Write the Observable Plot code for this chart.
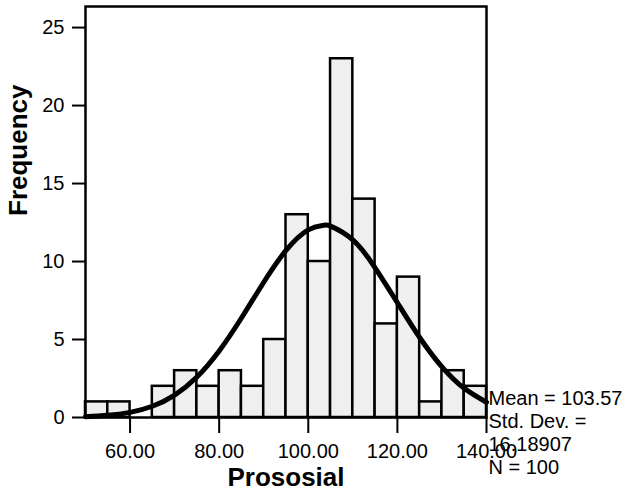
<!DOCTYPE html>
<html>
<head>
<meta charset="utf-8">
<script src="https://cdn.jsdelivr.net/npm/d3@7"></script>
<script src="https://cdn.jsdelivr.net/npm/@observablehq/plot@0.6"></script>
<style>
  html, body { margin: 0; padding: 0; background: #fff; }
</style>
</head>
<body>
<div id="chart"></div>
<script>
// Histogram bins (lower edge, upper edge) and counts
const binLower = [50, 55, 60, 65, 70, 75, 80, 85, 90, 95, 100, 105, 110, 115, 120, 125, 130, 135];
const binUpper = [55, 60, 65, 70, 75, 80, 85, 90, 95, 100, 105, 110, 115, 120, 125, 130, 135, 140];
const counts   = [1, 1, 0, 2, 3, 2, 3, 2, 5, 13, 10, 23, 14, 6, 9, 1, 3, 2];

// Fitted normal curve
const curveX = [50, 55, 60, 65, 70, 75, 80, 85, 90, 95, 100, 103.5, 105, 110, 115, 120, 125, 130, 135, 140];
const curveY = [0.05, 0.14, 0.33, 0.72, 1.44, 2.6, 4.27, 6.38, 8.67, 10.71, 12.03, 12.32, 12.27, 11.39, 9.6, 7.36, 5.13, 3.25, 1.87, 0.98];

const xTicks = [60, 80, 100, 120, 140];
const yTicks = [0, 5, 10, 15, 20, 25];
const statsLines = ["Mean = 103.57", "Std. Dev. =", "16.18907", "N = 100"];

const bars = binLower.map((lo, i) => ({x1: lo, x2: binUpper[i], count: counts[i]}));
const curve = curveX.map((x, i) => ({x, y: curveY[i]}));

const font = "'Liberation Sans', Arial, Helvetica, sans-serif";

const chart = Plot.plot({
  width: 633,
  height: 500,
  marginLeft: 85,
  marginRight: 147,
  marginTop: 6,
  marginBottom: 83,
  style: {fontFamily: font, fontSize: "20px", color: "#000", background: "#fff", overflow: "visible"},
  x: {domain: [50, 140]},
  y: {domain: [0, 26.35]},
  marks: [
    Plot.rect(bars, {x1: "x1", x2: "x2", y1: 0, y2: "count", fill: "#efefef", stroke: "#000", strokeWidth: 2.5}),
    Plot.line(curve, {x: "x", y: "y", stroke: "#000", strokeWidth: 5, curve: "natural"}),
    Plot.frame({stroke: "#000", strokeWidth: 2.5}),
    Plot.axisX({ticks: xTicks, tickFormat: d3.format(".2f"), tickSize: 16, tickPadding: 10, strokeWidth: 2, label: null, fontSize: 20}),
    Plot.axisY({ticks: yTicks, tickSize: 13, tickPadding: 8, strokeWidth: 2, label: null, fontSize: 20}),
    Plot.text(["Frequency"], {frameAnchor: "left", rotate: -90, dx: -67, dy: 4, fontWeight: "bold", fontSize: 26}),
    Plot.text(["Prososial"], {frameAnchor: "bottom", dy: 68, fontWeight: "bold", fontSize: 26}),
    Plot.text([statsLines.join("\n")], {frameAnchor: "bottom-right", textAnchor: "start", lineAnchor: "top", dx: 2, dy: -29, lineHeight: 1.15, fontSize: 20})
  ]
});

document.getElementById("chart").appendChild(chart);
</script>
</body>
</html>
